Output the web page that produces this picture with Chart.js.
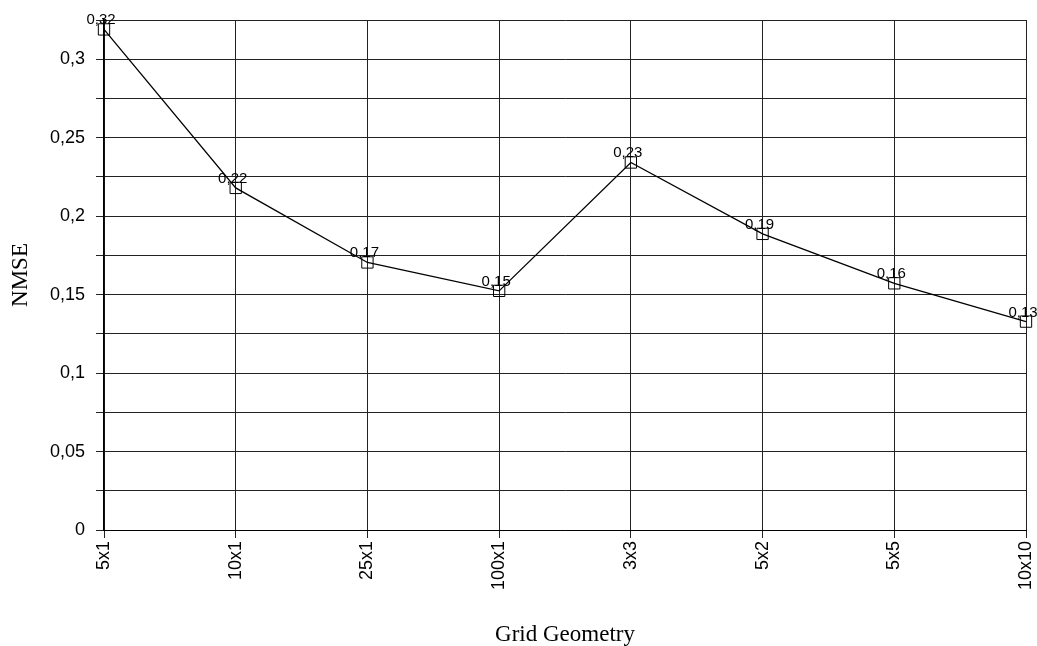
<!DOCTYPE html>
<html>
<head>
<meta charset="utf-8">
<script src="https://cdn.jsdelivr.net/npm/chart.js@4/dist/chart.umd.min.js"></script>
<style>
html,body{margin:0;padding:0;background:#fff;}
#wrap{width:1037px;height:646px;position:relative;}
</style>
</head>
<body>
<div id="wrap"><canvas id="c" width="1037" height="646"></canvas></div>
<script>
const categories = ["5x1","10x1","25x1","100x1","3x3","5x2","5x5","10x10"];
const nmseValues = [0.319, 0.218, 0.1705, 0.1524, 0.2342, 0.1887, 0.1572, 0.1328];
const yTickLabels = ["0","0,05","0,1","0,15","0,2","0,25","0,3"];
const xTitle = "Grid Geometry";
const yTitle = "NMSE";

function fmt(v){ return v.toFixed(2).replace('.', ','); }

const labelPlugin = {
  id: 'pointLabels',
  afterDatasetsDraw(chart){
    const ctx = chart.ctx;
    const meta = chart.getDatasetMeta(0);
    ctx.save();
    ctx.font = '15px "Liberation Sans"';
    ctx.fillStyle = '#000';
    ctx.textAlign = 'center';
    ctx.textBaseline = 'alphabetic';
    meta.data.forEach((pt, i) => {
      ctx.fillText(fmt(nmseValues[i]), pt.x - 3, pt.y - 5);
    });
    ctx.restore();
  }
};

new Chart(document.getElementById('c'), {
  type: 'line',
  data: {
    labels: categories,
    datasets: [{
      data: nmseValues,
      borderColor: '#000',
      borderWidth: 1.3,
      tension: 0,
      fill: false,
      pointStyle: 'rect',
      pointRadius: 8,
      pointHoverRadius: 8,
      pointBackgroundColor: 'rgba(0,0,0,0)',
      pointBorderColor: '#000',
      pointBorderWidth: 1
    }]
  },
  options: {
    responsive: false,
    animation: false,
    devicePixelRatio: 1,
    layout: { padding: { top: 20, right: 11, left: 0, bottom: 0 } },
    plugins: { legend: { display: false }, tooltip: { enabled: false } },
    scales: {
      x: {
        offset: false,
        grid: { color: '#222', lineWidth: 1, tickLength: 8, drawTicks: true },
        border: { color: '#000', width: 1 },
        ticks: {
          color: '#000',
          font: { family: '"Liberation Sans"', size: 18 },
          maxRotation: 90, minRotation: 90,
          autoSkip: false, padding: 3
        },
        title: {
          display: true, text: xTitle, color: '#000',
          font: { family: '"Liberation Serif"', size: 23, lineHeight: 1 },
          padding: { top: 0, bottom: 0 }
        },
        afterFit(scale){ scale.height = 116; scale.paddingRight = 0; scale.paddingLeft = 0; }
      },
      y: {
        min: 0, max: 0.325,
        grid: { color: '#222', lineWidth: 1, tickLength: 8 },
        border: { color: '#000', width: 1.5 },
        ticks: {
          stepSize: 0.025,
          autoSkip: false,
          color: '#000',
          padding: 11,
          font: { family: '"Liberation Sans"', size: 18 },
          callback(v){
            const k = Math.round(v * 1000);
            if (k % 50 !== 0) return '';
            return yTickLabels[k / 50] || '';
          }
        },
        title: {
          display: true, text: yTitle, color: '#000',
          font: { family: '"Liberation Serif"', size: 23, lineHeight: 1 },
          padding: { top: 9.5, bottom: 0 }
        },
        afterFit(scale){ scale.width = 104; scale.paddingTop = 0; scale.paddingBottom = 0; }
      }
    }
  },
  plugins: [labelPlugin]
});
</script>
</body>
</html>
